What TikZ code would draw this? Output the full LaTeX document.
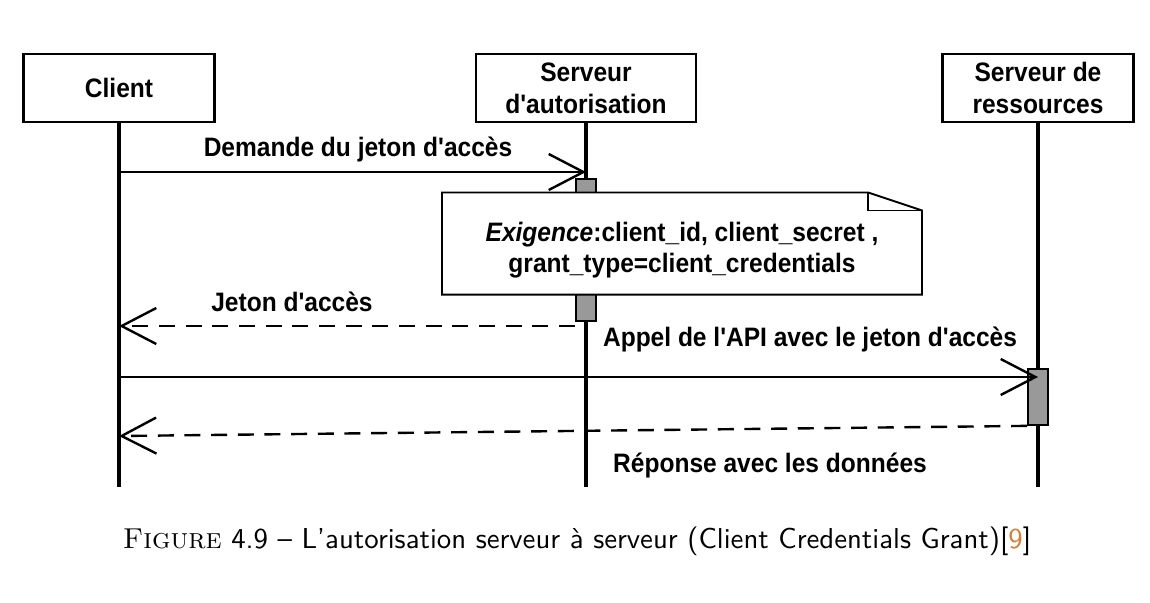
\documentclass[tikz,border=0pt]{standalone}
\usepackage{fontspec}
\newfontfamily\arialfont[FakeStretch=0.92]{Liberation Sans}
\usetikzlibrary{arrows.meta,calc}
\definecolor{actgray}{RGB}{153,153,153}
\definecolor{citecolor}{RGB}{204,128,60}
\begin{document}
\begin{tikzpicture}[x=0.375pt,y=-0.375pt,>={Straight Barb[length=13pt,width=13.5pt]},
    actor/.style={draw,line width=0.9pt,fill=white,align=center,font=\arialfont\bfseries,inner sep=0pt,minimum height=25.5pt},
    life/.style={line width=1.3pt},
    act/.style={draw,line width=0.7pt,fill=actgray,minimum width=7.5pt,inner sep=0pt,anchor=north},
    msg/.style={->,line width=0.9pt},
    reply/.style={->,line width=0.9pt,dash pattern=on 6pt off 4pt},
    lbl/.style={font=\arialfont\bfseries,inner sep=0pt}]
    \useasboundingbox (0,0) rectangle (1150,602);
    %\draw[help lines,step=50] (0,0) grid (1150,602);
    \node[actor,minimum width=71.6pt] (client) at (119,88) {Client};
    \node[actor,minimum width=82.5pt] (auth) at (586,88) {Serveur\\d'autorisation};
    \node[actor,minimum width=71.6pt] (res) at (1038,88) {Serveur de\\ressources};
    \coordinate (bottom) at (0,487);
    \coordinate (y1) at (0,172); \coordinate (y2) at (0,326);
    \coordinate (y3) at (0,377); \coordinate (y4) at (0,436);
    \foreach \n in {client,auth,res}
    \draw[life] (\n.south) -- (\n.south |- bottom);
    \node[act,minimum height=53.25pt] (actA) at (586,178) {};
    \node[act,minimum height=21pt] (actR) at (1038,368) {};
    % messages
    \draw[msg] (client |- y1) -- (auth |- y1);
    \node[lbl] (l1) at (358,149) {Demande du jeton d'accès};
    \draw[reply] (actA.west |- y2) -- (client |- y2);
    \node[lbl] (l2) at (292,302) {Jeton d'accès};
    \draw[msg] (client |- y3) -- (res |- y3);
    \node[lbl] (l3) at (810,339) {Appel de l'API avec le jeton d'accès};
    \draw[reply] (actR.south west) -- (client |- y4);
    \node[lbl] (l4) at (770,465) {Réponse avec les données};
    % note
    \node[inner sep=0pt,minimum width=179.6pt,minimum height=37.9pt] (note) at (682,243.5) {};
    \draw[fill=white,line width=0.7pt] (note.north west) -- ($(note.north east)+(-54,0)$) -- ($(note.north east)+(0,18)$) -- (note.south east) -- (note.south west) -- cycle;
    \draw[line width=0.7pt] ($(note.north east)+(-54,0)$) -- ($(note.north east)+(-54,18)$) -- ($(note.north east)+(0,18)$);
    \node[font=\arialfont\bfseries\fontsize{10}{11.6}\selectfont,align=center,inner sep=0pt] (notetxt) at (682,250) {\textit{Exigence}:client\_id, client\_secret ,\\grant\_type=client\_credentials};
    \node[font=\sffamily\fontsize{10.8}{13}\selectfont,anchor=base,inner sep=0pt] (caption) at (577,548) {{\rmfamily\textsc{Figure}} 4.9 -- L'autorisation serveur à serveur (Client Credentials Grant)[\textcolor{citecolor}{9}]};
\end{tikzpicture}
\end{document}
